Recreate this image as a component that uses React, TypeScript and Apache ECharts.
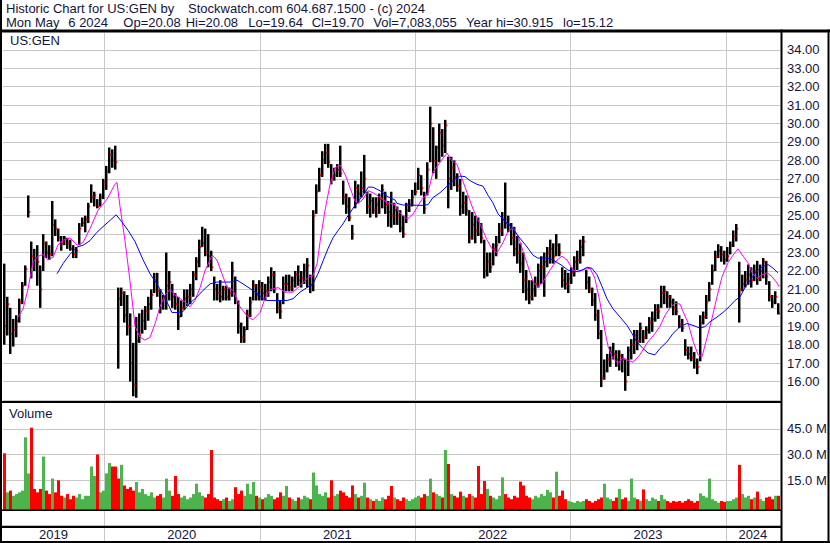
import React, { useEffect, useRef } from "react";
import * as echarts from "echarts";

const FONT = "13px 'Liberation Sans', Arial, sans-serif";
const INK = "#14143c";
const GRID_GREY = "#c8c8c8";
const UP_GREEN = "#4db34d";
const DOWN_RED = "#ff0000";

// Visible period of the chart (local time).
const RANGE_START = new Date(2019, 4, 9).getTime();
const RANGE_END = new Date(2024, 4, 7, 12).getTime();

const YEARS = [2019, 2020, 2021, 2022, 2023, 2024];
const PRICE_TICKS = [16, 17, 18, 19, 20, 21, 22, 23, 24, 25, 26, 27, 28, 29, 30, 31, 32, 33, 34];
const VOLUME_TICKS = [15, 30, 45];

// Weekly price bars, US:GEN (USD).
const LOW = [
  18.0, 18.5, 17.5, 17.9, 18.4, 19.2, 20.2, 21.2, 24.9, 21.6,
  22.0, 21.2, 20.0, 22.0, 22.7, 22.6, 22.8, 23.9, 23.6, 23.1,
  23.4, 23.2, 23.1, 22.7, 22.7, 23.4, 24.4, 24.1, 24.6, 25.7,
  25.5, 25.4, 25.5, 25.9, 26.4, 27.3, 27.6, 27.5, 16.7, 20.1,
  19.2, 18.5, 16.0, 15.2, 15.12, 18.1, 18.6, 18.8, 19.3, 19.9,
  20.8, 20.6, 19.7, 19.9, 19.9, 20.4, 20.0, 19.9, 18.8, 19.5,
  19.9, 20.1, 20.2, 20.6, 21.5, 22.2, 23.3, 22.8, 22.2, 22.0,
  20.4, 20.4, 20.3, 20.4, 20.4, 20.4, 20.6, 20.2, 18.6, 18.1,
  18.1, 18.8, 19.5, 20.4, 20.4, 20.4, 20.4, 20.4, 20.6, 20.9,
  20.8, 19.7, 19.4, 20.2, 20.9, 20.9, 20.9, 21.1, 21.2, 21.1,
  21.3, 21.1, 20.8, 20.9, 25.1, 26.3, 27.1, 27.8, 27.6, 26.7,
  26.9, 27.1, 27.1, 25.6, 25.1, 24.7, 23.7, 25.4, 25.7, 26.0,
  26.2, 25.1, 24.9, 25.1, 24.9, 25.1, 25.4, 25.1, 24.4, 24.35,
  24.5, 24.5, 24.1, 23.8, 24.6, 25.2, 25.5, 26.1, 26.4, 26.1,
  25.1, 26.1, 27.9, 27.3, 27.0, 27.9, 28.2, 28.4, 25.4, 26.4,
  26.6, 26.3, 25.0, 25.1, 25.0, 23.5, 23.7, 23.5, 23.9, 23.5,
  21.6, 21.7, 21.9, 22.3, 22.8, 23.5, 23.9, 24.3, 24.1, 23.4,
  22.8, 22.4, 21.9, 20.8, 20.4, 20.2, 20.4, 20.6, 21.1, 21.3,
  20.6, 22.2, 22.4, 22.4, 22.8, 22.8, 21.1, 21.0, 20.8, 21.3,
  21.7, 22.05, 22.4, 22.8, 21.0, 20.8, 20.1, 19.3, 18.3, 15.7,
  16.1, 16.5, 16.8, 17.2, 16.8, 16.6, 16.5, 15.5, 16.3, 17.2,
  17.5, 17.7, 18.1, 18.1, 18.3, 18.6, 18.7, 19.25, 19.4, 20.0,
  20.2, 20.0, 20.0, 19.6, 19.6, 18.9, 18.7, 17.4, 17.2, 17.1,
  16.7, 16.4, 17.1, 19.1, 19.4, 20.35, 21.25, 22.0, 22.7, 22.5,
  22.35, 22.5, 22.9, 23.3, 23.6, 19.2, 20.9, 21.1, 21.25, 21.1,
  21.45, 21.25, 21.45, 21.6, 21.25, 20.35, 20.0, 20.2, 19.64,
];

const HIGH = [
  22.4, 20.6, 20.0, 19.4, 19.6, 20.5, 21.4, 22.3, 26.1, 23.6,
  23.2, 23.4, 22.3, 24.0, 23.6, 23.4, 25.8, 24.8, 24.3, 23.9,
  23.9, 23.8, 23.7, 23.4, 23.3, 24.6, 24.9, 25.0, 25.7, 26.7,
  26.3, 25.9, 26.2, 27.0, 27.7, 28.7, 28.6, 28.8, 21.1, 21.1,
  20.9, 20.7, 19.7, 18.1, 19.5, 19.7, 19.9, 20.1, 20.6, 21.0,
  21.9, 21.9, 21.0, 20.7, 23.0, 22.0, 21.3, 20.8, 20.6, 20.4,
  21.0, 21.0, 21.3, 22.0, 22.75, 23.7, 24.4, 24.3, 24.0, 23.1,
  21.7, 21.3, 21.5, 21.2, 21.2, 21.1, 22.5, 21.7, 20.4, 19.2,
  19.0, 19.9, 20.6, 21.5, 21.3, 21.5, 21.4, 21.3, 21.7, 22.2,
  22.0, 20.8, 20.4, 21.7, 21.8, 21.8, 21.7, 22.0, 22.3, 22.0,
  22.4, 22.7, 21.8, 25.3, 26.7, 27.6, 28.5, 28.9, 28.9, 27.8,
  27.6, 27.8, 28.8, 26.9, 26.2, 26.0, 24.5, 26.9, 26.7, 27.4,
  28.3, 26.3, 26.2, 26.0, 26.0, 26.2, 26.7, 26.3, 25.8, 26.3,
  25.7, 25.5, 25.3, 25.0, 25.7, 25.9, 26.4, 26.8, 27.6, 27.2,
  26.3, 27.9, 30.915, 29.8, 28.8, 30.0, 29.7, 30.2, 28.2, 28.2,
  28.0, 27.3, 27.0, 26.3, 26.1, 25.3, 25.2, 25.0, 24.9, 24.6,
  23.7, 23.0, 23.0, 23.5, 23.9, 24.6, 25.2, 26.8, 25.0, 24.6,
  24.4, 23.9, 23.5, 23.0, 22.05, 21.5, 21.5, 21.7, 22.4, 22.8,
  23.0, 23.3, 23.7, 23.5, 24.0, 23.5, 22.2, 22.05, 21.9, 22.2,
  22.8, 23.1, 23.7, 23.9, 22.05, 21.7, 21.1, 20.8, 19.9, 18.8,
  17.2, 17.5, 17.9, 18.1, 17.7, 17.7, 17.5, 17.2, 17.9, 18.3,
  18.8, 18.8, 19.2, 18.8, 19.0, 19.5, 19.8, 20.2, 20.2, 21.2,
  21.2, 20.9, 20.7, 20.5, 20.35, 19.6, 19.4, 18.3, 17.9, 17.9,
  17.6, 17.25, 19.6, 19.8, 20.7, 21.4, 22.35, 23.1, 23.45, 23.35,
  23.1, 23.3, 23.6, 24.2, 24.55, 22.5, 21.8, 22.0, 22.35, 22.2,
  22.35, 22.55, 22.35, 22.7, 22.55, 21.45, 20.7, 20.9, 20.25,
];

const CLOSE = [
  19.0, 20.2, 18.6, 18.8, 19.3, 20.3, 21.2, 22.1, 25.2, 22.8,
  22.7, 22.5, 21.0, 23.5, 23.0, 22.9, 24.5, 24.3, 23.8, 23.5,
  23.8, 23.5, 23.2, 22.9, 23.1, 24.3, 24.6, 24.8, 25.5, 26.0,
  26.1, 25.5, 26.0, 26.8, 27.4, 28.3, 28.0, 27.9, 20.5, 20.8,
  19.6, 19.0, 17.0, 15.8, 18.2, 18.5, 19.3, 19.8, 20.2, 20.7,
  21.5, 20.9, 20.0, 20.5, 21.2, 21.4, 20.6, 20.2, 19.5, 20.0,
  20.5, 20.6, 21.0, 21.8, 22.5, 23.3, 23.5, 23.0, 22.8, 22.2,
  21.0, 20.8, 20.6, 21.0, 20.6, 20.8, 22.0, 20.5, 19.0, 18.4,
  18.8, 19.6, 20.3, 21.2, 20.7, 21.1, 20.8, 20.9, 21.4, 21.8,
  21.0, 20.0, 19.8, 21.3, 21.3, 21.1, 21.5, 21.8, 21.5, 21.6,
  22.0, 22.3, 21.2, 25.0, 26.3, 27.2, 28.0, 28.4, 27.9, 27.0,
  27.2, 27.5, 27.3, 26.0, 25.5, 24.9, 24.0, 26.5, 26.2, 26.5,
  27.0, 25.5, 25.8, 25.3, 25.6, 25.9, 26.4, 25.6, 25.2, 25.0,
  25.3, 25.0, 24.3, 24.0, 25.3, 25.6, 26.0, 26.3, 27.2, 26.5,
  25.4, 27.5, 30.0, 28.0, 28.7, 29.5, 28.8, 29.9, 27.0, 27.6,
  27.1, 26.6, 25.5, 25.7, 25.3, 23.8, 24.5, 24.2, 24.0, 23.8,
  22.0, 22.5, 22.2, 23.2, 23.4, 24.2, 24.8, 24.6, 24.5, 23.8,
  23.2, 23.0, 22.4, 21.5, 21.0, 20.6, 21.0, 21.3, 22.0, 22.2,
  22.5, 23.0, 23.2, 22.8, 23.4, 23.0, 21.5, 21.3, 21.6, 21.9,
  22.5, 22.6, 23.3, 23.6, 21.4, 21.0, 20.4, 19.6, 18.6, 16.2,
  16.6, 17.2, 17.6, 17.5, 17.2, 17.4, 17.2, 16.0, 17.7, 18.0,
  18.5, 18.2, 18.9, 18.4, 18.8, 19.2, 19.4, 19.9, 19.8, 20.8,
  20.9, 20.6, 20.3, 20.0, 19.8, 19.1, 18.9, 17.7, 17.5, 17.3,
  17.0, 16.8, 19.2, 19.5, 20.3, 21.0, 22.0, 22.8, 23.1, 22.9,
  22.6, 22.8, 23.4, 23.9, 24.3, 21.0, 21.3, 21.5, 21.8, 21.5,
  22.0, 21.6, 22.0, 22.5, 21.7, 20.6, 20.3, 20.6, 19.7,
];

// Volume per bar, millions of shares.
const VOLUME_M = [
  30.7, 8, 9, 6, 7, 8, 9, 40, 19, 45.6,
  10, 8, 10, 28.8, 9, 7, 16, 8, 15, 6,
  5, 7, 4, 6, 5, 7, 4, 6, 6, 23,
  17.5, 30, 8, 9, 19, 25, 23, 23, 16, 24,
  12, 10, 11, 9, 14, 8, 10, 7, 6, 8,
  5, 6, 7, 5, 16, 9, 6, 17.5, 7, 5,
  6, 4, 5, 7, 13, 8, 6, 5, 7, 32.6,
  5, 4, 3, 4, 5, 3, 4, 11, 7, 9,
  6, 13, 7, 14, 6, 5, 4, 5, 7, 6,
  4, 5, 8, 6, 11.7, 5, 4, 3, 5, 4,
  6, 5, 4, 19.5, 12, 7, 6, 8, 5, 15,
  6, 7, 9, 8, 6, 5, 12, 7, 5, 6,
  13.6, 5, 4, 3, 4, 3, 5, 4, 6, 11.7,
  5, 4, 3, 5, 4, 3, 4, 5, 6, 5,
  7, 6, 16, 8, 7, 6, 5, 32.6, 24.5, 7,
  6, 5, 8.4, 6, 5, 7, 6, 5, 23.3, 7,
  14.6, 10, 6, 5, 4, 6, 16.7, 7, 5, 4,
  6, 5, 14.2, 12, 6, 5, 4, 6, 5, 7,
  6, 9.4, 8, 5, 20, 6, 9, 4, 3, 2.5,
  2, 3, 2.5, 3, 4, 3, 2, 3, 4, 5,
  13, 5, 4, 3, 5, 10, 4, 5, 3, 16,
  5, 4, 3, 9.7, 4, 3, 5, 4, 3, 6.5,
  4, 3, 2, 3, 2.5, 3, 2, 3, 4, 3,
  2, 3, 7.4, 6, 5, 16, 4, 3, 2, 3,
  2.5, 3, 3, 4, 5, 24, 7, 5, 6, 4,
  5, 8.4, 4, 3, 5, 5.5, 4, 6, 6,
];

// Moving averages as [bar position, value].
const MA_FAST: [number, number][] = [
  [4.5, 19.5], [6.2, 19.95], [7.8, 21.0], [9.5, 22.5], [11.2, 22.8], [12.8, 22.9], [14.5, 22.6],
  [16.2, 22.75], [17.8, 23.4], [19.2, 23.65], [21.8, 23.8], [24.2, 23.4], [26.2, 23.55], [28.5, 24.3],
  [31.2, 25.3], [34.2, 25.9], [36.8, 26.7], [37.5, 26.8], [38.5, 25.5], [40.2, 23.6], [41.8, 21.5],
  [43.5, 19.0], [45.2, 18.4], [46.8, 18.25], [48.5, 18.4], [50.2, 19.15], [51.8, 20.05], [53.5, 20.7],
  [55.2, 21.0], [56.8, 20.7], [58.5, 20.5], [60.2, 20.3], [61.8, 20.05], [63.5, 20.4], [65.2, 21.1],
  [66.8, 22.0], [69.2, 22.85], [70.8, 22.6], [72.5, 21.85], [74.2, 21.1], [76.2, 20.95], [78.5, 20.05],
  [81.2, 19.5], [82.8, 19.35], [85.2, 19.75], [86.8, 20.5], [88.5, 21.0], [91.2, 21.1], [93.5, 20.85],
  [96.2, 20.85], [98.5, 21.2], [101.2, 21.65], [102.8, 21.75], [104.2, 22.4], [105.2, 23.6],
  [106.8, 25.25], [108.5, 26.7], [110.2, 27.6], [111.8, 27.75], [113.5, 27.25], [115.2, 26.5],
  [116.8, 25.8], [117.8, 25.65], [119.5, 25.9], [121.2, 26.35], [122.8, 26.25], [125.2, 26.0],
  [127.5, 25.7], [130.2, 25.6], [131.2, 25.25], [134.2, 24.8], [136.2, 25.1], [139.2, 25.9],
  [141.2, 26.25], [142.8, 27.35], [145.2, 27.9], [147.5, 28.4], [149.2, 27.95], [150.8, 27.8],
  [152.5, 27.0], [154.2, 26.25], [156.2, 25.35], [158.5, 24.55], [160.8, 23.7], [162.5, 23.2],
  [164.2, 23.0], [166.2, 23.55], [167.8, 24.15], [169.5, 24.35], [171.2, 23.9], [174.2, 22.4],
  [176.2, 21.4], [177.8, 21.15], [179.5, 21.4], [181.8, 22.05], [184.2, 22.6], [185.8, 22.8],
  [187.5, 22.6], [189.5, 22.05], [191.2, 21.95], [193.5, 22.1], [195.2, 22.15], [196.8, 21.6],
  [198.5, 20.3], [200.2, 18.7], [201.2, 17.9], [202.8, 17.25], [204.5, 17.0], [206.2, 17.3],
  [207.8, 17.15], [209.5, 17.05], [211.8, 17.45], [214.2, 18.1], [216.8, 18.6], [218.5, 19.0],
  [220.2, 19.6], [221.8, 20.0], [223.5, 20.25], [225.2, 20.2], [226.2, 19.8], [227.8, 19.2],
  [229.5, 18.2], [231.2, 17.45], [232.5, 17.35], [234.2, 18.4], [235.8, 19.4], [237.5, 20.6],
  [239.2, 21.7], [241.2, 22.45], [242.8, 22.85], [244.5, 23.2], [246.2, 22.8], [247.8, 22.45],
  [249.2, 21.9], [250.8, 21.6], [252.5, 21.8], [254.2, 21.9], [255.8, 21.7], [257.5, 21.35],
  [258.2, 21.15],
];

const MA_SLOW: [number, number][] = [
  [17.5, 21.85], [19.5, 22.4], [21.8, 22.9], [24.2, 23.3], [26.2, 23.4], [28.5, 23.65], [30.8, 24.1],
  [32.8, 24.4], [35.2, 24.75], [37.2, 25.05], [39.2, 24.65], [41.2, 24.2], [43.5, 23.6], [46.2, 22.6],
  [48.5, 21.85], [50.8, 21.3], [52.8, 20.75], [54.5, 20.2], [55.8, 19.75], [57.5, 19.75], [59.5, 19.8],
  [61.8, 20.25], [64.2, 20.6], [66.2, 20.95], [68.5, 21.3], [70.8, 21.4], [75.2, 21.4], [77.5, 21.5],
  [79.5, 21.3], [81.8, 21.05], [84.2, 20.8], [86.2, 20.5], [87.5, 20.4], [94.2, 20.4], [96.2, 20.5],
  [98.5, 20.85], [100.8, 21.1], [102.8, 21.3], [104.5, 21.85], [106.2, 22.55], [107.8, 23.2],
  [109.5, 23.8], [111.2, 24.2], [112.8, 24.55], [114.5, 25.0], [116.8, 25.55], [118.5, 25.9],
  [120.2, 26.25], [121.2, 26.55], [122.8, 26.55], [125.2, 26.35], [127.5, 26.05], [130.2, 25.85],
  [130.8, 25.67], [132.8, 25.58], [139.5, 25.56], [141.2, 25.6], [142.8, 25.98], [145.2, 26.25],
  [147.5, 26.6], [149.5, 26.9], [151.8, 27.15], [153.5, 27.12], [155.2, 26.9], [157.5, 26.7],
  [159.5, 26.6], [161.2, 26.1], [162.8, 25.7], [164.5, 25.1], [166.8, 24.7], [169.2, 24.35],
  [171.2, 23.9], [174.2, 23.3], [176.2, 22.85], [177.8, 22.7], [180.8, 22.7], [182.8, 22.6],
  [185.8, 22.3], [187.8, 22.05], [190.2, 21.95], [192.5, 22.05], [194.2, 22.2], [195.8, 22.15],
  [197.5, 21.8], [199.2, 21.15], [200.8, 20.5], [202.8, 19.95], [205.2, 19.5], [207.5, 19.05],
  [209.2, 18.6], [210.8, 18.15], [212.8, 17.8], [214.5, 17.55], [216.8, 17.45], [218.5, 17.8],
  [220.8, 18.15], [222.8, 18.6], [225.2, 18.98], [227.5, 19.15], [229.5, 19.05], [231.8, 18.9],
  [233.5, 18.98], [235.2, 19.25], [237.5, 19.5], [239.5, 19.75], [241.8, 20.1], [243.5, 20.4],
  [245.2, 20.6], [246.8, 21.1], [248.5, 21.5], [250.8, 22.0], [252.8, 22.25], [254.5, 22.35],
  [256.2, 22.15], [257.8, 21.9],
];

// Axis extents of the two panels.
const PRICE_MIN = 15;
const PRICE_MAX = 34.913;
const VOL_MIN = -2.27;
const VOL_MAX = 59.94;

const N = CLOSE.length;
const STEP = (RANGE_END - RANGE_START) / N;
const timeAt = (pos: number) => RANGE_START + (pos + 0.5) * STEP;
const yearStart = (y: number) => new Date(y, 0, 1).getTime();
const crisp = (v: number) => Math.round(v) + 0.5;

function buildOption(): any {
  const bars = CLOSE.map((c, i) => [timeAt(i), LOW[i], HIGH[i], c]);
  const volumes = VOLUME_M.map((v, i) => [timeAt(i), v, i > 0 && CLOSE[i] >= CLOSE[i - 1] ? 1 : 0]);
  const yearSpans = YEARS.map((y) => [
    Math.max(yearStart(y), RANGE_START),
    Math.min(yearStart(y + 1), RANGE_END),
    0.5,
    y,
  ]);

  const yearLines = (xIdx: number, yValue: number) => ({
    type: "custom",
    xAxisIndex: xIdx,
    yAxisIndex: xIdx,
    z: 1,
    silent: true,
    encode: { x: 0, y: 1 },
    data: YEARS.slice(1).map((y) => [yearStart(y), yValue]),
    renderItem: (params: any, api: any) => {
      const cs = params.coordSys;
      const x = crisp(api.coord([api.value(0), yValue])[0]);
      return {
        type: "line",
        shape: { x1: x, y1: cs.y, x2: x, y2: cs.y + cs.height },
        style: { stroke: GRID_GREY, lineWidth: 1 },
      };
    },
  });

  const txt = (text: string, x: number, y: number) => ({
    type: "text",
    x,
    y,
    z: 100,
    style: { text, fill: INK, font: FONT, align: "left", verticalAlign: "middle" },
  });
  const box = (x: number, y: number, width: number, height: number) => ({
    type: "rect",
    z: 100,
    shape: { x, y, width, height },
    style: { fill: "#000" },
  });

  return {
    animation: false,
    backgroundColor: "#ffffff",
    grid: [
      { left: 3, top: 33, width: 777, height: 367 },
      { left: 3, top: 403, width: 777, height: 107 },
      { left: 3, top: 511, width: 777, height: 30 },
    ],
    xAxis: [0, 1, 2].map((g) => ({
      type: "time",
      gridIndex: g,
      min: RANGE_START,
      max: RANGE_END,
      show: false,
    })),
    yAxis: [
      {
        type: "value",
        gridIndex: 0,
        position: "right",
        min: PRICE_MIN,
        max: PRICE_MAX,
        interval: 1,
        axisLine: { show: false },
        axisTick: { show: false },
        axisLabel: {
          customValues: PRICE_TICKS,
          formatter: (v: number) => v.toFixed(2),
          color: INK,
          fontFamily: "'Liberation Sans', Arial, sans-serif",
          fontSize: 13,
          margin: 7,
        },
        splitLine: { show: true, showMaxLine: false, lineStyle: { color: GRID_GREY, width: 1 } },
      },
      {
        type: "value",
        gridIndex: 1,
        position: "right",
        min: VOL_MIN,
        max: VOL_MAX,
        axisLine: { show: false },
        axisTick: { show: false },
        axisLabel: {
          customValues: VOLUME_TICKS,
          formatter: (v: number) => v.toFixed(1) + " M",
          color: INK,
          fontFamily: "'Liberation Sans', Arial, sans-serif",
          fontSize: 13,
          margin: 7,
        },
        splitLine: { show: false },
      },
      { type: "value", gridIndex: 2, min: 0, max: 1, show: false },
    ],
    series: [
      yearLines(0, 20),
      yearLines(1, 10),
      {
        type: "custom",
        name: "Volume grid",
        xAxisIndex: 1,
        yAxisIndex: 1,
        z: 1,
        silent: true,
        encode: { x: 0, y: 1 },
        data: VOLUME_TICKS.map((v) => [RANGE_START, v]),
        renderItem: (params: any, api: any) => {
          const cs = params.coordSys;
          const y = crisp(api.coord([api.value(0), api.value(1)])[1]);
          return {
            type: "line",
            shape: { x1: cs.x, y1: y, x2: cs.x + cs.width, y2: y },
            style: { stroke: GRID_GREY, lineWidth: 1 },
          };
        },
      },
      {
        type: "custom",
        name: "US:GEN",
        xAxisIndex: 0,
        yAxisIndex: 0,
        z: 2,
        silent: true,
        encode: { x: 0, y: [1, 2, 3] },
        data: bars,
        renderItem: (params: any, api: any) => {
          const t = api.value(0);
          const lo = api.coord([t, api.value(1)]);
          const hi = api.coord([t, api.value(2)]);
          const cl = api.coord([t, api.value(3)]);
          const w = api.size([STEP, 0])[0];
          const left = lo[0] - w / 2;
          return {
            type: "group",
            children: [
              {
                type: "rect",
                shape: { x: left, y: hi[1], width: w * 0.82, height: Math.max(1, lo[1] - hi[1]) },
                style: { fill: "#000" },
              },
              {
                type: "rect",
                shape: { x: left + w * 0.62, y: cl[1] - 1, width: w * 0.38 + 0.2, height: 2 },
                style: { fill: DOWN_RED },
              },
            ],
          };
        },
      },
      {
        type: "line",
        name: "MA fast",
        xAxisIndex: 0,
        yAxisIndex: 0,
        z: 3,
        silent: true,
        symbol: "none",
        data: MA_FAST.map(([p, v]) => [timeAt(p), v]),
        lineStyle: { color: "#ff00ff", width: 1 },
      },
      {
        type: "line",
        name: "MA slow",
        xAxisIndex: 0,
        yAxisIndex: 0,
        z: 3,
        silent: true,
        symbol: "none",
        data: MA_SLOW.map(([p, v]) => [timeAt(p), v]),
        lineStyle: { color: "#0000ff", width: 1 },
      },
      {
        type: "custom",
        name: "Volume",
        xAxisIndex: 1,
        yAxisIndex: 1,
        z: 2,
        silent: true,
        encode: { x: 0, y: 1 },
        data: volumes,
        renderItem: (params: any, api: any) => {
          const cs = params.coordSys;
          const top = api.coord([api.value(0), api.value(1)]);
          const w = api.size([STEP, 0])[0];
          const bottom = cs.y + cs.height;
          return {
            type: "rect",
            shape: { x: top[0] - w / 2, y: top[1], width: w, height: bottom - top[1] },
            style: { fill: api.value(2) ? UP_GREEN : DOWN_RED },
          };
        },
      },
      {
        type: "custom",
        name: "Years",
        xAxisIndex: 2,
        yAxisIndex: 2,
        z: 2,
        silent: true,
        encode: { x: [0, 1], y: 2 },
        data: yearSpans,
        renderItem: (params: any, api: any) => {
          const cs = params.coordSys;
          const x0 = api.coord([api.value(0), 0.5])[0];
          const x1 = api.coord([api.value(1), 0.5])[0];
          const children: any[] = [
            {
              type: "text",
              x: (x0 + x1) / 2,
              y: cs.y + 23.8,
              style: {
                text: String(api.value(3)),
                fill: INK,
                font: FONT,
                align: "center",
                verticalAlign: "middle",
              },
            },
          ];
          if (api.value(0) > RANGE_START) {
            const x = crisp(x0);
            children.push({
              type: "line",
              shape: { x1: x, y1: cs.y, x2: x, y2: cs.y + cs.height },
              style: { stroke: GRID_GREY, lineWidth: 1 },
            });
          }
          return { type: "group", children };
        },
      },
    ],
    graphic: [
      txt("Historic Chart for US:GEN by", 6, 8.2),
      txt("Stockwatch.com 604.687.1500 - (c) 2024", 188, 8.2),
      txt("Mon May", 6, 22.2),
      txt("6 2024", 68.3, 22.2),
      txt("Op=20.08", 123.3, 22.2),
      txt("Hi=20.08", 185.7, 22.2),
      txt("Lo=19.64", 248.3, 22.2),
      txt("Cl=19.70", 311.7, 22.2),
      txt("Vol=7,083,055", 373.3, 22.2),
      txt("Year hi=30.915", 466, 22.2),
      txt("lo=15.12", 563, 22.2),
      txt("US:GEN", 10, 40.8),
      txt("Volume", 9, 413.8),
      box(0, 29.5, 830, 3),
      box(0, 0, 2, 543),
      box(780.5, 29.5, 2, 513.5),
      box(827.5, 29.5, 2, 513.5),
      box(0, 401, 782, 2),
      box(0, 509.5, 782, 1.5),
      box(0, 525.8, 782, 2.2),
      box(0, 541, 830, 2),
    ],
  };
}

export default function App() {
  const ref = useRef<HTMLDivElement>(null);
  useEffect(() => {
    const chart = echarts.init(ref.current as HTMLDivElement, null, { renderer: "svg" });
    chart.setOption(buildOption());
    return () => chart.dispose();
  }, []);
  return (
    <div
      ref={ref}
      style={{ position: "absolute", left: 0, top: 0, width: 830, height: 543, background: "#ffffff" }}
    />
  );
}
